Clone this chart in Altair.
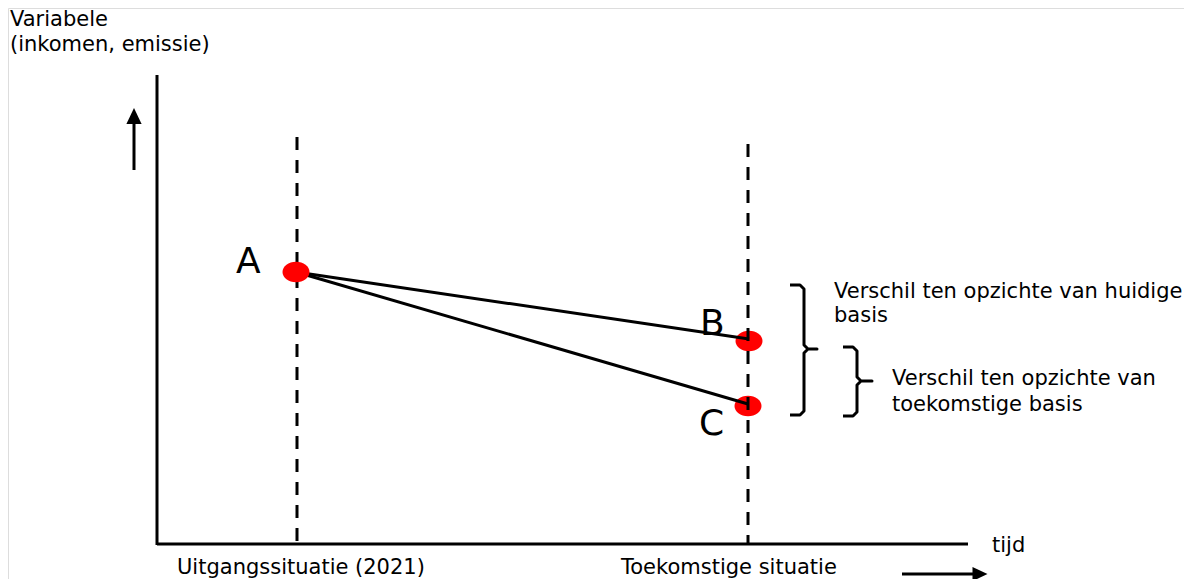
import altair as alt
import pandas as pd

# ---- schematic coordinates (horizontal = tijd, vertical = variabele; page-unit space) ----
# axes and arrow shafts
frame_x = [157, 157, 134, 902]
frame_y = [79, 548, 174, 578]
frame_x2 = [157, 968, 134, 976]
frame_y2 = [549, 548, 126, 578]

# dashed reference moments
moment_x = [297, 748]
moment_top = [141, 148]
moment_bottom = [548, 548]

# points A, B, C
pt_name = ["A", "B", "C"]
pt_x = [296, 749, 748]
pt_y = [276, 345, 410]

# letters
lab_x = [236, 700, 699]
lab_y = [277, 339, 439]

# brackets (polyline vertices)
br1_x = [790, 800, 804, 804, 808, 817, 808, 804, 804, 800, 790]
br1_y = [289, 289, 293, 349, 353, 353, 353, 357, 415, 419, 419]
br2_x = [843, 853, 857, 857, 861, 872, 861, 857, 857, 853, 843]
br2_y = [351, 351, 355, 381, 385, 385, 385, 389, 416, 420, 420]

# texts
txt = ["Variabele", "(inkomen, emissie)", "Verschil ten opzichte van huidige", "basis",
       "Verschil ten opzichte van", "toekomstige basis", "tijd",
       "Uitgangssituatie (2021)", "Toekomstige situatie"]
txt_x = [10, 10, 834, 834, 892, 892, 992, 177, 621]
txt_y = [30, 55, 302, 326, 389, 415, 556, 578, 578]

W, H = 1176, 571
xs = alt.Scale(domain=[8, 1184], nice=False, zero=False)
ys = alt.Scale(domain=[583, 12], nice=False, zero=False)
X = lambda f: alt.X(f, type="quantitative", scale=xs, axis=None)
Y = lambda f: alt.Y(f, type="quantitative", scale=ys, axis=None)

FONT = "DejaVu Sans"

frame = pd.DataFrame({"x": frame_x, "y": frame_y, "x2": frame_x2, "y2": frame_y2})
frame_layer = alt.Chart(frame).mark_rule(color="black", strokeWidth=3, strokeCap="butt").encode(
    x=X("x"), y=Y("y"), x2="x2", y2="y2")

moments = pd.DataFrame({"x": moment_x, "y": moment_top, "y2": moment_bottom})
moment_layer = alt.Chart(moments).mark_rule(color="black", strokeWidth=3, strokeDash=[13, 10],
                                             strokeCap="butt").encode(x=X("x"), y=Y("y"), y2="y2")

pts = pd.DataFrame({"name": pt_name, "x": pt_x, "y": pt_y})
ellipse = "M -1 0 A 1 0.76 0 1 0 1 0 A 1 0.76 0 1 0 -1 0 Z"
pts_bc = alt.Chart(pts[pts.name != "A"]).mark_point(shape=ellipse, filled=True, color="#ff0000",
                                                    size=729, opacity=1, strokeWidth=0).encode(
    x=X("x"), y=Y("y"))
pts_a = alt.Chart(pts[pts.name == "A"]).mark_point(shape=ellipse, filled=True, color="#ff0000",
                                                   size=729, opacity=1, strokeWidth=0).encode(
    x=X("x"), y=Y("y"))

conn = pd.DataFrame({"x": [pt_x[0], pt_x[0]], "y": [pt_y[0], pt_y[0]],
                     "x2": [pt_x[1], pt_x[2]], "y2": [pt_y[1] - 2, pt_y[2] - 2]})
conn_layer = alt.Chart(conn).mark_rule(color="black", strokeWidth=3).encode(
    x=X("x"), y=Y("y"), x2="x2", y2="y2")

brk = pd.DataFrame({
    "b": ["1"] * len(br1_x) + ["2"] * len(br2_x),
    "i": list(range(len(br1_x))) + list(range(len(br2_x))),
    "x": br1_x + br2_x, "y": br1_y + br2_y})
brk_layer = alt.Chart(brk).mark_line(color="black", strokeWidth=3, strokeJoin="round",
                                     interpolate="linear").encode(
    x=X("x"), y=Y("y"), detail="b:N", order="i:Q")

up_head = alt.Chart(pd.DataFrame({"x": [134], "y": [120]})).mark_point(
    shape="M 0 -1 L 0.95 1 L -0.95 1 Z", filled=True, color="black", size=256, opacity=1,
    strokeWidth=0).encode(x=X("x"), y=Y("y"))
right_head = alt.Chart(pd.DataFrame({"x": [980], "y": [578]})).mark_point(
    shape="M 1 0 L -1 0.95 L -1 -0.95 Z", filled=True, color="black", size=225, opacity=1,
    strokeWidth=0).encode(x=X("x"), y=Y("y"))

letters = pd.DataFrame({"t": pt_name, "x": lab_x, "y": lab_y})
letter_layer = alt.Chart(letters).mark_text(font=FONT, fontSize=36, align="left",
                                            baseline="alphabetic", color="black").encode(
    x=X("x"), y=Y("y"), text="t:N")

texts = pd.DataFrame({"t": txt, "x": txt_x, "y": txt_y})
text_layer = alt.Chart(texts).mark_text(font=FONT, fontSize=21, align="left",
                                        baseline="alphabetic", color="black").encode(
    x=X("x"), y=Y("y"), text="t:N")

chart = alt.layer(
    frame_layer, pts_bc, moment_layer, conn_layer, pts_a, brk_layer,
    up_head, right_head, letter_layer, text_layer
).properties(width=W, height=H, padding=0, autosize=alt.AutoSizeParams(type="none")
).configure_view(stroke=None).configure(background="white")

chart.save("out.html", embed_options={"renderer": "svg", "actions": False})
